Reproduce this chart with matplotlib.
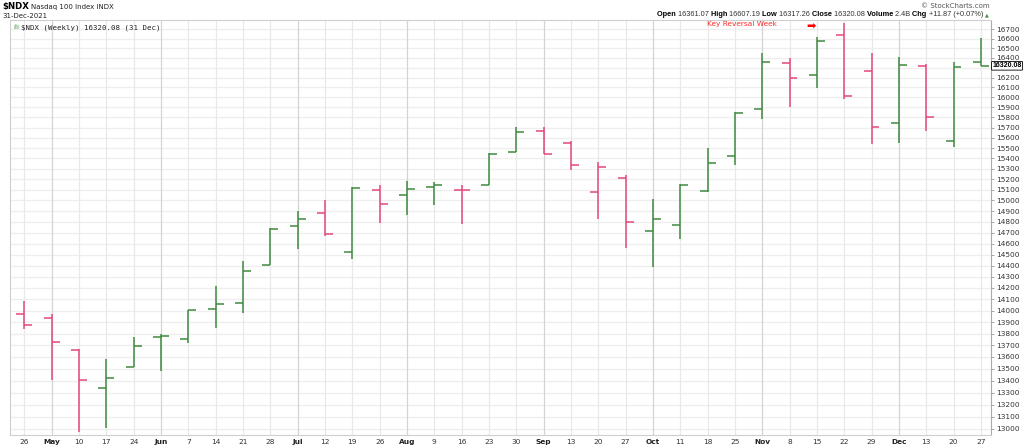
import matplotlib
matplotlib.use("Agg")
import matplotlib.pyplot as plt
from matplotlib.ticker import FixedLocator, NullLocator, FixedFormatter
import numpy as np

# ---- data (weekly OHLC, $NDX, Apr 26 - Dec 27 2021) ----
week_labels = ['26', 'May', '10', '17', '24', 'Jun', '7', '14', '21', '28', 'Jul', '12',
               '19', '26', 'Aug', '9', '16', '23', '30', 'Sep', '13', '20', '27', 'Oct',
               '11', '18', '25', 'Nov', '8', '15', '22', '29', 'Dec', '13', '20', '27']
month_labels = {'May', 'Jun', 'Jul', 'Aug', 'Sep', 'Oct', 'Nov', 'Dec'}

opens = [13968, 13933, 13659, 13338, 13512, 13771, 13754, 14012, 14065, 14406, 14759, 14883,
         14521, 15096, 15049, 15130, 15100, 15143, 15459, 15664, 15547, 15077, 15210, 14719,
         14774, 15090, 15421, 15881, 16345, 16223, 16638, 16264, 15743, 16315, 15569, 16361.07]
highs = [14085, 13972, 13665, 13582, 13771, 13794, 14006, 14218, 14441, 14741, 14899, 15004,
         15130, 15149, 15187, 15172, 15149, 15450, 15703, 15706, 15566, 15363, 15241, 15014,
         15153, 15501, 15851, 16451, 16397, 16620, 16760, 16451, 16410, 16338, 16356, 16607.19]
lows = [13843, 13405, 12978, 13011, 13512, 13481, 13722, 13852, 13977, 14406, 14554, 14670,
        14457, 14787, 14864, 14960, 14778, 15143, 15459, 15440, 15289, 14827, 14563, 14391,
        14640, 15080, 15340, 15782, 15901, 16092, 15987, 15543, 15553, 15664, 15511, 16317.26]
closes = [13872, 13728, 13405, 13419, 13694, 13777, 14006, 14058, 14349, 14732, 14827, 14688,
          15115, 14964, 15111, 15145, 15096, 15440, 15654, 15440, 15334, 15315, 14796, 14830,
          15149, 15353, 15847, 16356, 16193, 16572, 16017, 15709, 16328, 15802, 16308.21, 16320.08]
prior_close = 14017  # close of the week before the first bar

y_ticks = list(range(13000, 16800, 100))
last_close = 16320.08

GREEN = '#3f8a3f'
RED = '#e4487a'

fig = plt.figure(figsize=(10.24, 4.46), dpi=100)
ax = fig.add_axes([10/1024, 1 - 435/446, (991 - 10)/1024, (435 - 19.5)/446])

x = np.arange(len(week_labels))
prev = [prior_close] + closes[:-1]
colors = [GREEN if c >= p else RED for c, p in zip(closes, prev)]

ax.set_yscale('log')
ax.set_ylim(12951, 16800)
ax.set_xlim(-0.523, 35.37)

# grid
for yt in y_ticks:
    ax.axhline(yt, color='#eeeeee', lw=0.9, zorder=0)
for xi, lab in zip(x, week_labels):
    ax.axvline(xi, color='#d4d4d4' if lab in month_labels else '#e9e9e9', lw=0.9, zorder=0)

w = 0.29
ax.vlines(x, lows, highs, colors=colors, lw=1.1, zorder=3)
ax.hlines(opens, x - w, x, colors=colors, lw=1.1, zorder=3)
ax.hlines(closes, x, x + w, colors=colors, lw=1.1, zorder=3)

# axes styling
for s in ['left', 'top', 'bottom']:
    ax.spines[s].set_color('#cfcfcf')
    ax.spines[s].set_linewidth(0.8)
ax.spines['right'].set_color('#aaaaaa')
ax.spines['right'].set_linewidth(0.8)

ax.yaxis.set_major_locator(FixedLocator([t for t in y_ticks if t != 16300]))
ax.yaxis.set_minor_locator(NullLocator())
ax.yaxis.set_major_formatter(FixedFormatter([str(t) for t in y_ticks if t != 16300]))
ax.yaxis.tick_right()
ax.tick_params(axis='y', which='major', length=2.5, width=0.6, color='#999999',
               labelsize=5.3, labelcolor='#333333', pad=1.5)

ax.set_xticks(x)
ax.set_xticklabels(week_labels)
ax.tick_params(axis='x', length=0, labelsize=5.3, labelcolor='#333333', pad=3)
for lbl in ax.get_xticklabels():
    if lbl.get_text() in month_labels:
        lbl.set_fontweight('bold')
        lbl.set_color('#222222')

# last value box
ax.annotate(f'{last_close:.2f}', xy=(1.0, last_close), xycoords=('axes fraction', 'data'),
            xytext=(1.0, 0), textcoords='offset points', ha='left', va='center',
            family='Liberation Sans', fontsize=5.0, fontweight='bold', color='black',
            bbox=dict(boxstyle='round,pad=0.12', fc='white', ec='black', lw=0.6),
            annotation_clip=False)

# headers
fig.text(2/1024, 1 - 7/446, '$NDX', fontsize=6.2, fontweight='bold', va='center', ha='left')
fig.text(31/1024, 1 - 7/446, 'Nasdaq 100 Index INDX', fontsize=5.0, va='center', ha='left',
         color='#222222')
fig.text(2/1024, 1 - 15.5/446, '31-Dec-2021', fontsize=5.0, va='center', ha='left', color='#222222')
ax.text(0.003, 0.988, '\u0131l\u0131', transform=ax.transAxes, fontsize=5, color=GREEN,
        va='top', ha='left')
ax.text(0.0115, 0.988, '$NDX (Weekly) 16320.08 (31 Dec)', transform=ax.transAxes,
        family='DejaVu Sans Mono', fontsize=5.3, va='top', ha='left', color='#222222')

fig.text(990/1024, 1 - 5.5/446, '\u00a9 StockCharts.com', fontsize=5.0, color='#555555',
         ha='right', va='center')

parts = [('Open ', True), ('16361.07 ', False), ('High ', True), ('16607.19 ', False),
         ('Low ', True), ('16317.26 ', False), ('Close ', True), ('16320.08 ', False),
         ('Volume ', True), ('2.4B ', False), ('Chg ', True), ('+11.87 (+0.07%) ', False)]
r = fig.canvas.get_renderer()
texts = []
total = 0.0
for txt, bold in parts:
    t = fig.text(0, 1 - 15/446, txt, family='Liberation Sans', fontsize=5.3,
                 fontweight='bold' if bold else 'normal',
                 color='black' if bold else '#333333', ha='left', va='center')
    total += t.get_window_extent(renderer=r).width
    texts.append(t)
xpos = 985 - total
for t in texts:
    t.set_x(xpos / 1024)
    xpos += t.get_window_extent(renderer=r).width
fig.text(xpos / 1024, 1 - 15/446, '\u25b2', fontsize=3.5, color=GREEN, ha='left', va='center')

# annotation
fig.text(707/1024, 1 - 24.3/446, 'Key Reversal Week', fontsize=5.3, color='#ff2a2a',
         ha='left', va='center')
fig.text(806/1024, 1 - 27/446, '\u27a1', fontsize=8, color='#ff0000', ha='left', va='center')

fig.savefig('out.png', dpi=100)
